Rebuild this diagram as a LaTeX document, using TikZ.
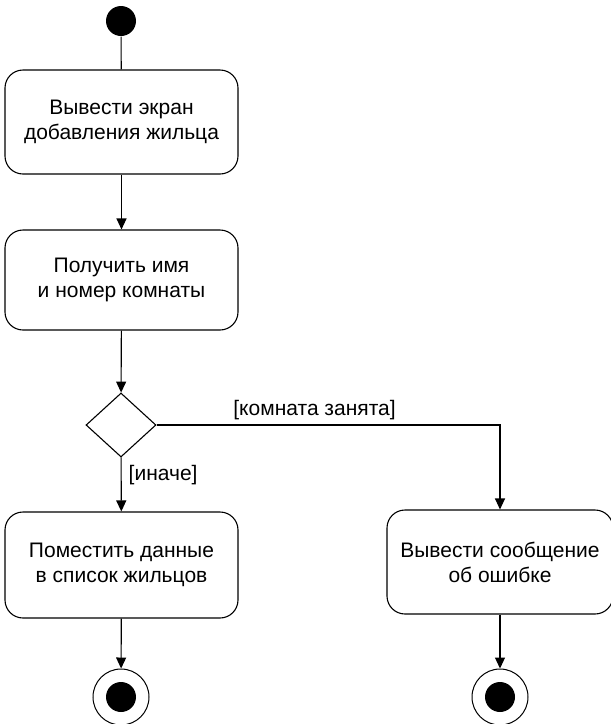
\documentclass[tikz,border=0pt]{standalone}
\usepackage{fontspec}
\setmainfont{Liberation Sans}
\usetikzlibrary{shapes.geometric,arrows.meta}
\begin{document}
\begin{tikzpicture}[x=1pt,y=-1pt,
  line width=1.1pt,
  act/.style={draw, rounded corners=18pt, minimum width=233pt, minimum height=104pt, align=center, font=\fontsize{21}{25}\selectfont, inner sep=0pt},
  lbl/.style={font=\fontsize{21}{25}\selectfont, inner sep=0pt},
  arr/.style={-{Triangle[length=11pt,width=10pt]}},
  dec/.style={draw, diamond, minimum width=70pt, minimum height=64pt, inner sep=0pt},
  startdot/.style={circle, fill=black, minimum size=30pt, inner sep=0pt},
  endring/.style={circle, draw, line width=1pt, minimum size=56pt, inner sep=0pt},
  enddot/.style={circle, fill=black, minimum size=30pt, inner sep=0pt}
]
\useasboundingbox (0,0) rectangle (611,724);
\node[startdot] (s) at (121,21) {};
\node[act] (b1) at (121.5,122) {Вывести экран\\добавления жильца};
\node[act, minimum height=100pt] (b2) at (121.5,280) {Получить имя\\и номер комнаты};
\node[dec] (d) at (121,425) {};
\node[act, minimum height=106pt] (b3) at (121.5,565) {Поместить данные\\в список жильцов};
\node[act, minimum width=226pt] (b4) at (500,562) {Вывести сообщение\\об ошибке};
\node[endring] (e1) at (121,697) {};
\node[enddot] (e1i) at (121,697) {};
\node[endring] (e2) at (500,697) {};
\node[enddot] (e2i) at (500,697) {};

\draw (s) -- (b1);
\draw[arr] (b1) -- (b2);
\draw[arr] (b2) -- (d);
\draw[arr] (d) -- node[lbl, right=7pt, pos=0.32] {[иначе]} (b3);
\draw[arr] (d.east) -| node[lbl, above=5pt, pos=0.23] {[комната занята]} (b4.north);
\draw[arr] (b3) -- (e1);
\draw[arr] (b4) -- (e2);
\end{tikzpicture}
\end{document}
